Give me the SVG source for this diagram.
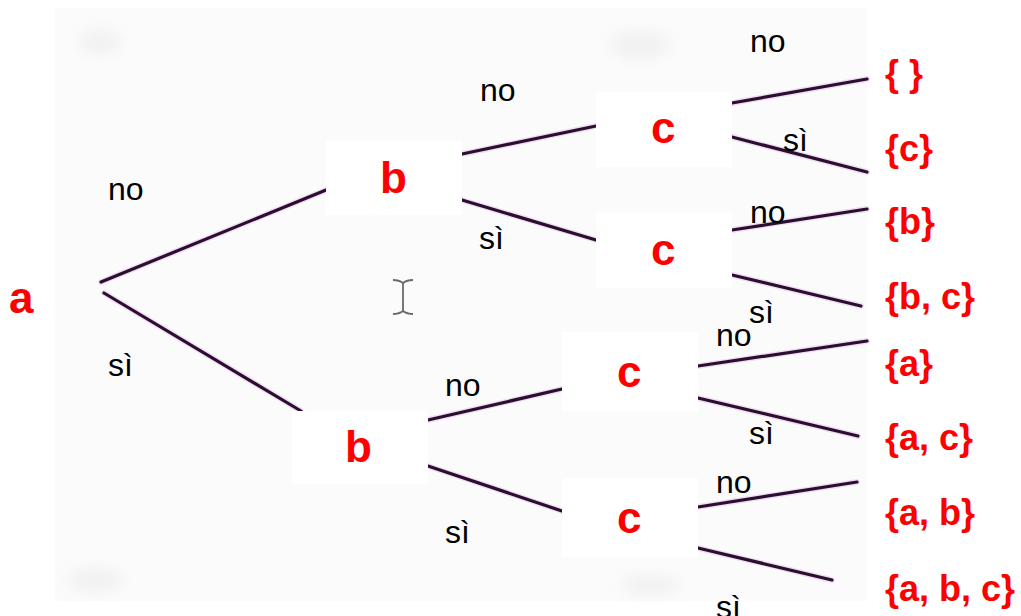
<svg xmlns="http://www.w3.org/2000/svg" xmlns:xlink="http://www.w3.org/1999/xlink" width="1021" height="616" viewBox="0 0 1021 616">
  <style>
    .node-bg { fill: #ffffff; }
    .var { font-family: "Liberation Sans", Arial, sans-serif; font-weight: bold; font-size: 44px; fill: #ff0000; }
    .leaf { font-family: "Liberation Sans", Arial, sans-serif; font-weight: bold; font-size: 36px; fill: #ff0000; }
    .lbl { font-family: "Liberation Sans", Arial, sans-serif; font-size: 32px; fill: #000000; }
    .halo { fill: none; stroke: #edd2f0; stroke-width: 6; stroke-linecap: round; opacity: 0.7; }
    .edge { fill: none; stroke: #2c0f30; stroke-width: 3.2; stroke-linecap: round; }
  </style>
  <defs>
    <filter id="soft" x="-50%" y="-50%" width="200%" height="200%">
      <feGaussianBlur stdDeviation="7"/>
    </filter>
    <path id="e1" d="M101 282 L326 190"/>
    <path id="e2" d="M104 293 L301 411"/>
    <path id="e3" d="M462 154 L596 126"/>
    <path id="e4" d="M462 200 L596 240"/>
    <path id="e5" d="M732 103 L867 79"/>
    <path id="e6" d="M732 137 L867 172"/>
    <path id="e7" d="M732 230 L867 209"/>
    <path id="e8" d="M732 275 L861 306"/>
    <path id="e9" d="M428 420 L562 389"/>
    <path id="e10" d="M428 466 L562 511"/>
    <path id="e11" d="M698 366 L867 341"/>
    <path id="e12" d="M698 398 L858 436"/>
    <path id="e13" d="M698 507 L857 482"/>
    <path id="e14" d="M698 548 L832 580"/>
  </defs>

  <!-- page -->
  <rect x="0" y="0" width="1021" height="616" fill="#ffffff"/>
  <!-- scanned drawing area -->
  <rect x="55" y="8" width="812" height="593" fill="#fbfbfc"/>
  <g fill="#cfcfcf" opacity="0.22" filter="url(#soft)">
    <ellipse cx="100" cy="42" rx="22" ry="12"/>
    <ellipse cx="640" cy="45" rx="30" ry="14"/>
    <ellipse cx="95" cy="580" rx="28" ry="12"/>
    <ellipse cx="650" cy="585" rx="30" ry="10"/>
  </g>

  <!-- connectors -->
  <g id="connectors">
    <g class="halo">
      <use xlink:href="#e1"/><use xlink:href="#e2"/><use xlink:href="#e3"/><use xlink:href="#e4"/>
      <use xlink:href="#e5"/><use xlink:href="#e6"/><use xlink:href="#e7"/><use xlink:href="#e8"/>
      <use xlink:href="#e9"/><use xlink:href="#e10"/><use xlink:href="#e11"/><use xlink:href="#e12"/>
      <use xlink:href="#e13"/><use xlink:href="#e14"/>
    </g>
    <g class="edge">
      <use xlink:href="#e1"/><use xlink:href="#e2"/><use xlink:href="#e3"/><use xlink:href="#e4"/>
      <use xlink:href="#e5"/><use xlink:href="#e6"/><use xlink:href="#e7"/><use xlink:href="#e8"/>
      <use xlink:href="#e9"/><use xlink:href="#e10"/><use xlink:href="#e11"/><use xlink:href="#e12"/>
      <use xlink:href="#e13"/><use xlink:href="#e14"/>
    </g>
    <!-- branch labels -->
    <text class="lbl" x="108" y="200">no</text>
    <text class="lbl" x="108" y="376">sì</text>
    <text class="lbl" x="480" y="101">no</text>
    <text class="lbl" x="479" y="249">sì</text>
    <text class="lbl" x="445" y="396">no</text>
    <text class="lbl" x="445" y="543">sì</text>
    <text class="lbl" x="750" y="52">no</text>
    <text class="lbl" x="783" y="151">sì</text>
    <text class="lbl" x="750" y="223">no</text>
    <text class="lbl" x="749" y="323">sì</text>
    <text class="lbl" x="716" y="346">no</text>
    <text class="lbl" x="749" y="444">sì</text>
    <text class="lbl" x="716" y="493">no</text>
    <text class="lbl" x="716" y="618">sì</text>
  </g>

  <!-- text cursor -->
  <g id="cursor" fill="none" stroke="#6a6a6a" stroke-width="1.8">
    <path d="M403 282 V312"/>
    <path d="M393 280 Q399 280 403 283 Q407 280 413 280"/>
    <path d="M393 314 Q399 314 403 311 Q407 314 413 314"/>
  </g>

  <!-- decision nodes -->
  <g id="node-a">
    <text class="var" x="9" y="313">a</text>
  </g>
  <g id="node-b1">
    <rect class="node-bg" x="326" y="141" width="136" height="74"/>
    <text class="var" x="380" y="193">b</text>
  </g>
  <g id="node-b2">
    <rect class="node-bg" x="292" y="411" width="136" height="73"/>
    <text class="var" x="345" y="462">b</text>
  </g>
  <g id="node-c1">
    <rect class="node-bg" x="596" y="92" width="136" height="75"/>
    <text class="var" x="651" y="143">c</text>
  </g>
  <g id="node-c2">
    <rect class="node-bg" x="596" y="213" width="136" height="75"/>
    <text class="var" x="651" y="265">c</text>
  </g>
  <g id="node-c3">
    <rect class="node-bg" x="562" y="332" width="136" height="79"/>
    <text class="var" x="617" y="387">c</text>
  </g>
  <g id="node-c4">
    <rect class="node-bg" x="562" y="478" width="136" height="79"/>
    <text class="var" x="617" y="533">c</text>
  </g>

  <!-- resulting subsets -->
  <g id="leaf-1"><text class="leaf" x="885" y="86">{ }</text></g>
  <g id="leaf-2"><text class="leaf" x="885" y="161">{c}</text></g>
  <g id="leaf-3"><text class="leaf" x="885" y="234">{b}</text></g>
  <g id="leaf-4"><text class="leaf" x="885" y="309">{b, c}</text></g>
  <g id="leaf-5"><text class="leaf" x="885" y="376">{a}</text></g>
  <g id="leaf-6"><text class="leaf" x="885" y="450">{a, c}</text></g>
  <g id="leaf-7"><text class="leaf" x="885" y="525">{a, b}</text></g>
  <g id="leaf-8"><text class="leaf" x="885" y="601">{a, b, c}</text></g>
</svg>
